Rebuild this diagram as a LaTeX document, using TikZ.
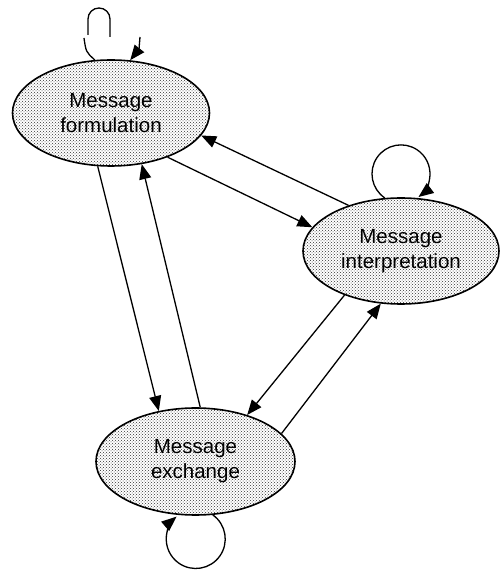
\documentclass[tikz,border=0pt]{standalone}
\usepackage{fontspec}
\setmainfont{Liberation Sans}
\usetikzlibrary{shapes.geometric,arrows.meta,patterns}
\begin{document}
\begin{tikzpicture}[
  x=1pt, y=1pt,
  state/.style={ellipse, draw=black, line width=1.6pt, inner sep=0pt,
    preaction={fill=white}, pattern=crosshatch dots, pattern color=black!80,
    align=center, font=\fontsize{20.5}{25}\selectfont},
  link/.style={line width=1.3pt, -{Triangle[length=15pt,width=12pt]}},
  plain/.style={line width=1.3pt}
]
\useasboundingbox (0,0) rectangle (500,571);

% the three states
\node[state, minimum width=197pt, minimum height=106pt] (f) at (111,458) {Message\\formulation};
\node[state, minimum width=196pt, minimum height=106pt] (i) at (401,320) {Message\\interpretation};
\node[state, minimum width=199pt, minimum height=107pt] (e) at (195.5,109.5) {Message\\exchange};

% transitions between states
\draw[link] (f.-38.8) -- (i.165.8);
\draw[link] (i.139) -- (f.-14.6);
\draw[link] (f.-104.8) -- (e.126);
\draw[link] (e.85) -- (f.-59.4);
\draw[link] (i.-142.8) -- (e.42.7);
\draw[link] (e.18.2) -- (i.-111);

% self loops
\draw[link] (i.107) arc[start angle=236, end angle=-53, radius=29pt];
\draw[link] (e.-72) arc[start angle=54.5, end angle=-229.4, radius=29.5pt];

% broken loop above the formulation state
\draw[plain] (f.107) .. controls (86,519) .. (84,533);
\draw[plain] (88,536) -- (88,552) arc[start angle=180, end angle=0, radius=11pt] -- (110,534);
\coordinate (fl) at (140,534);
\draw[link] (fl) .. controls (139,522) .. (f.70);
\end{tikzpicture}
\end{document}
